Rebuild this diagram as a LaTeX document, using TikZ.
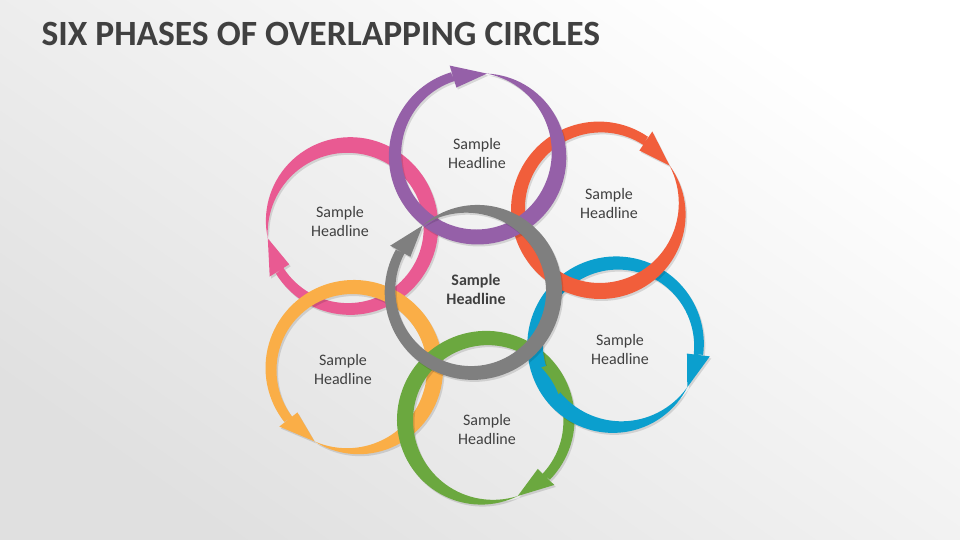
\documentclass[tikz,border=0pt]{standalone}
\usepackage{fontspec}
\setmainfont{Carlito}
\usetikzlibrary{calc}

\definecolor{ringpurple}{HTML}{9560A8}
\definecolor{ringorange}{HTML}{F15E3B}
\definecolor{ringblue}{HTML}{0B9FCE}
\definecolor{ringgreen}{HTML}{6BA83F}
\definecolor{ringyellow}{HTML}{FAAE47}
\definecolor{ringpink}{HTML}{E95A92}
\definecolor{ringgray}{HTML}{7F7F7F}
\definecolor{titlegray}{HTML}{404040}

% ring geometry (px)
\def\rmid{82}
\def\wmax{17}
\def\headw{11.5}
\def\headang{24}

% tapered ring with head: #1 tip angle, #2 direction (-1 cw, 1 ccw)
\newcommand{\ringshape}[2]{%
  plot[domain=0:1, samples=100, variable=\t]
    ({#1+#2*(360-\headang)*\t}:{\rmid+\wmax*0.5*sin(min(90,250*\t))*(1-0.45*\t*\t)})
  -- plot[domain=1:0, samples=100, variable=\t]
    ({#1+#2*(360-\headang)*\t}:{\rmid-\wmax*0.5*sin(min(90,250*\t))*(1-0.45*\t*\t)}) -- cycle
  ({#1+#2*(360-\headang)}:{\rmid-\headw}) -- ({#1}:{\rmid})
  -- ({#1+#2*(360-\headang)}:{\rmid+\headw}) -- cycle}
\newcommand{\phasering}[4]{%
  \fill[black, opacity=0.12, shift={(#1)}, xshift=1.5pt, yshift=-2pt] \ringshape{#3}{#4};
  \fill[#2, shift={(#1)}] \ringshape{#3}{#4};}

\begin{document}
\begin{tikzpicture}[x=1pt, y=1pt,
    headline/.style={font=\fontsize{16}{19}\selectfont, text=titlegray, align=center},
  ]
  \shade[top color=white, bottom color=black!12, shading angle=-35] (0,0) rectangle (960,540);
  \node[anchor=base west, font=\fontsize{35.5}{40}\selectfont\bfseries, text=titlegray] (title) at (38,494) {SIX PHASES OF OVERLAPPING CIRCLES};

  % ring centres
  \coordinate (pinkc) at (349,313);
  \coordinate (yellowc) at (353,171);
  \coordinate (greenc) at (487,120);
  \coordinate (bluec) at (617,195);
  \coordinate (orangec) at (600,331);
  \coordinate (purplec) at (477,385);
  \coordinate (grayc) at (472,249);

  \phasering{pinkc}{ringpink}{188}{-1}
  \phasering{yellowc}{ringyellow}{242}{1}
  \phasering{greenc}{ringgreen}{-68}{-1}
  \phasering{bluec}{ringblue}{-31}{-1}
  % green passes over blue at the lower left
  \begin{scope}
    \clip (548,158) circle (16);
    \fill[ringgreen, shift={(greenc)}] \ringshape{-68}{-1};
  \end{scope}
  \phasering{orangec}{ringorange}{32}{-1}
  \phasering{purplec}{ringpurple}{83}{-1}
  \phasering{grayc}{ringgray}{127}{-1}

  \node[headline] (pink) at (340,318) {Sample\\Headline};
  \node[headline] (yellow) at (343,170) {Sample\\Headline};
  \node[headline] (green) at (487,110) {Sample\\Headline};
  \node[headline] (blue) at (620,190) {Sample\\Headline};
  \node[headline] (orange) at (609,336) {Sample\\Headline};
  \node[headline] (purple) at (477,386) {Sample\\Headline};
  \node[headline, font=\fontsize{16}{19}\selectfont\bfseries] (gray) at (476,251) {Sample\\Headline};
\end{tikzpicture}
\end{document}
